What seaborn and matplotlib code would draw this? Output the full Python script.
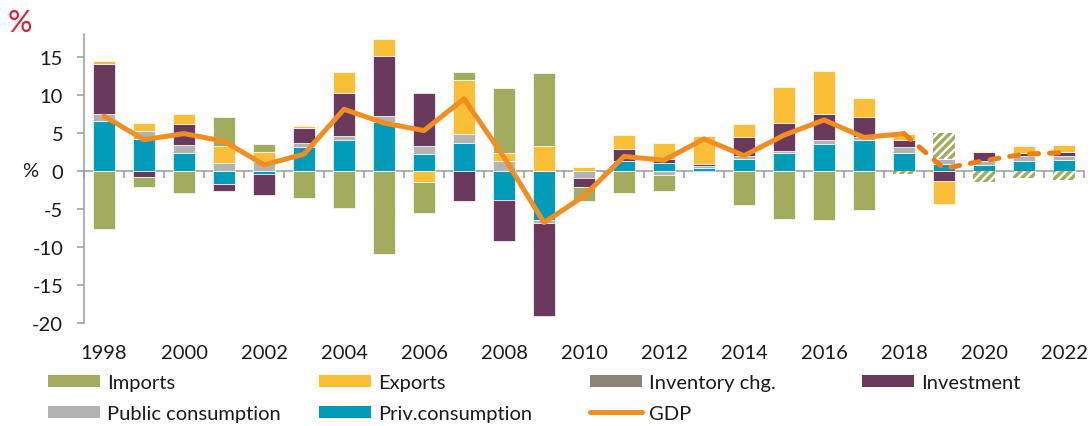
import numpy as np
import pandas as pd
import matplotlib
matplotlib.use('Agg')
import matplotlib.pyplot as plt
import seaborn as sns
from matplotlib.patches import Patch
from matplotlib.lines import Line2D

# contributions to GDP growth, percentage points
years = list(range(1998, 2023))
priv_consumption = [6.5, 4.2, 2.4, -1.7, -0.4, 3.2, 4.0, 6.4, 2.2, 3.7, -3.8, -6.5, 0.0,
                    1.25, 1.0, 0.4, 1.6, 2.3, 3.55, 4.0, 2.3, 0.9, 0.8, 1.35, 1.4]
public_consumption = [1.0, 1.1, 1.0, 1.1, 1.2, 0.5, 0.55, 0.8, 1.1, 1.1, 1.3, -0.3, -0.9,
                      0.1, -0.5, 0.2, 0.3, 0.3, 0.45, 0.45, 0.9, 0.7, 0.55, 0.55, 0.5]
inventory_chg = [0.0] * 25
investment = [6.5, -0.8, 2.8, -1.0, -2.8, 1.9, 5.75, 7.9, 7.0, -3.9, -5.4, -12.3, -1.2,
              1.5, 0.5, 0.3, 2.5, 3.7, 3.5, 2.6, 0.9, -1.3, 1.1, 0.5, 0.55]
exports = [0.5, 1.0, 1.3, 2.2, 1.35, 0.3, 2.7, 2.3, -1.5, 7.2, 1.1, 3.3, 0.45,
           1.85, 2.2, 3.75, 1.8, 4.7, 5.6, 2.55, 0.7, -3.05, 0.15, 0.85, 0.95]
imports = [-7.7, -1.3, -2.9, 3.8, 1.0, -3.5, -4.9, -10.9, -4.1, 1.0, 8.5, 9.6, -1.8,
           -2.9, -2.1, 0.0, -4.5, -6.3, -6.5, -5.1, -0.35, 3.4, -1.4, -0.9, -1.15]
gdp = [7.2, 4.1, 4.9, 3.9, 0.8, 2.2, 8.1, 6.3, 5.3, 9.5, 1.8, -6.8, -3.3,
       1.9, 1.4, 4.2, 2.0, 4.7, 6.7, 4.4, 4.9, 0.3, 1.35, 2.2, 2.4]
forecast_from = 2018

C_IMPORTS = '#a2ab5e'
C_EXPORTS = '#fbbf37'
C_INVENTORY = '#8b8378'
C_INVESTMENT = '#6a3a5e'
C_PUBLIC = '#b3b3b1'
C_PRIV = '#009cba'
C_GDP = '#f28e1f'
C_GDP_FC = '#ee7d12'
C_AXIS = '#9a9a9a'

sns.set_theme(style='white')
plt.rcParams['font.family'] = ['Lato', 'DejaVu Sans']
plt.rcParams['axes.unicode_minus'] = False
plt.rcParams['hatch.linewidth'] = 2.5

df = pd.DataFrame({
    'Priv.consumption': priv_consumption,
    'Public consumption': public_consumption,
    'Inventory chg.': inventory_chg,
    'Investment': investment,
    'Exports': exports,
    'Imports': imports,
}, index=years)

colors = {'Priv.consumption': C_PRIV, 'Public consumption': C_PUBLIC,
          'Inventory chg.': C_INVENTORY, 'Investment': C_INVESTMENT,
          'Exports': C_EXPORTS, 'Imports': C_IMPORTS}

W, H = 1091, 427
fig = plt.figure(figsize=(W / 100, H / 100), dpi=100)
ax = fig.add_axes([84 / W, 1 - 324 / H, 1000 / W, 289 / H])

x = df.index.to_numpy()
pos_base = np.zeros(len(x))
neg_base = np.zeros(len(x))
bar_w = 0.55
for name in df.columns:
    vals = df[name].to_numpy()
    base = np.where(vals >= 0, pos_base, neg_base)
    if name == 'Imports':
        fc = x >= forecast_from
        ax.bar(x[~fc], vals[~fc], bottom=base[~fc], width=bar_w,
               color=colors[name], edgecolor='white', linewidth=0.5)
        ax.bar(x[fc], vals[fc], bottom=base[fc], width=bar_w,
               facecolor='white', edgecolor=colors[name], hatch='////', linewidth=0)
    else:
        ax.bar(x, vals, bottom=base, width=bar_w,
               color=colors[name], edgecolor='white', linewidth=0.5)
    pos_base += np.clip(vals, 0, None)
    neg_base += np.clip(vals, None, 0)

hist = x <= forecast_from
fut = x >= forecast_from
gdp_arr = np.array(gdp)
sns.lineplot(x=x[hist], y=gdp_arr[hist], ax=ax, color=C_GDP, lw=3.6,
             solid_capstyle='round', solid_joinstyle='round')
sns.lineplot(x=x[fut], y=gdp_arr[fut], ax=ax, color=C_GDP_FC, lw=3.6,
             linestyle=(0, (1.8, 2.2)), dash_capstyle='round')

ax.set_xlim(1997.5, 2022.5)
ax.set_ylim(-20, 18)
ax.set_yticks(range(-20, 16, 5))
ax.set_xticks(range(1998, 2023, 2))
ax.tick_params(axis='y', left=True, length=5, width=1.1, color=C_AXIS, pad=10,
               labelsize=14.5, labelcolor='#1a1a1a')
ax.tick_params(axis='x', bottom=False, length=0, pad=15, labelsize=14.5, labelcolor='#1a1a1a')
for s in ['top', 'right', 'bottom']:
    ax.spines[s].set_visible(False)
ax.spines['left'].set_color(C_AXIS)
ax.spines['left'].set_linewidth(1.1)
ax.grid(False)

# zero line with ticks between the years
zero_axis = ax.secondary_xaxis(0, transform=ax.transData)
zero_axis.set_xticks(np.arange(1997.5, 2023, 1))
zero_axis.tick_params(bottom=True, length=5, width=1.1, color=C_AXIS, labelbottom=False)
zero_axis.spines['bottom'].set_color(C_AXIS)
zero_axis.spines['bottom'].set_linewidth(1.1)

ax.set_ylabel('%', rotation=0, fontsize=14.5, color='#1a1a1a', ha='center', va='center')
ax.yaxis.set_label_coords(-0.0535, 20 / 38)
fig.text(8 / W, 1 - 32 / H, '%', color='#e31937', fontsize=22, ha='left', va='baseline')

# legend, laid out in four columns
def patch(c):
    return Patch(facecolor=c, edgecolor='none')

legend_cols = [
    [(patch(C_IMPORTS), 'Imports'), (patch(C_PUBLIC), 'Public consumption')],
    [(patch(C_EXPORTS), 'Exports'), (patch(C_PRIV), 'Priv.consumption')],
    [(patch(C_INVENTORY), 'Inventory chg.'), (Line2D([], [], color=C_GDP, lw=3.6), 'GDP')],
    [(patch(C_INVESTMENT), 'Investment')],
]
col_x = [48, 319, 590, 862]
for cx, items in zip(col_x, legend_cols):
    fig.legend([h for h, _ in items], [l for _, l in items], loc='upper left',
               bbox_to_anchor=(cx / W, 1 - 375 / H), frameon=False, borderpad=0,
               borderaxespad=0, handlelength=2.6, handleheight=0.55, handletextpad=0.35,
               labelspacing=0.68, fontsize=14.5, labelcolor='#1a1a1a')

plt.savefig('out.png', dpi=100)
